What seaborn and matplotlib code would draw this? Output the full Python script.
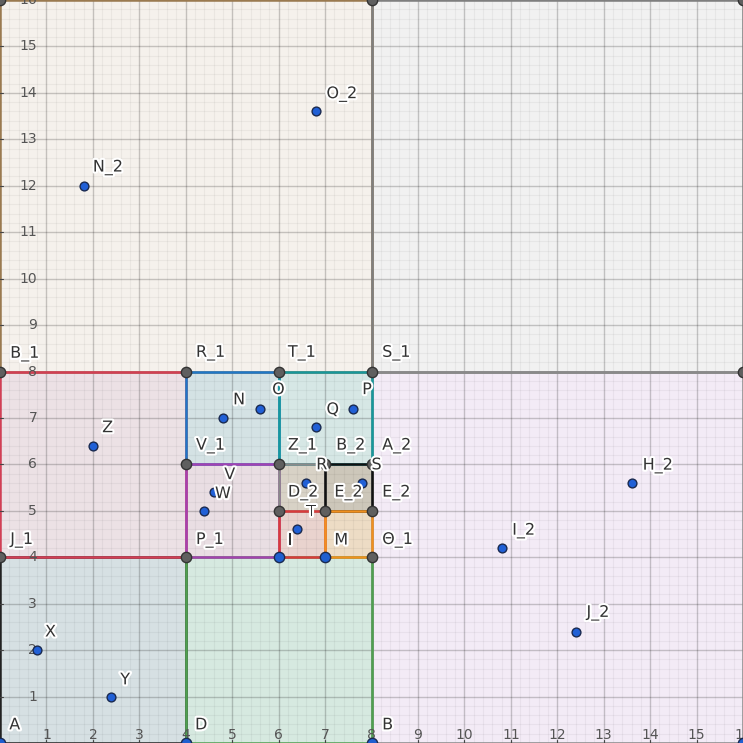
import numpy as np
import pandas as pd
import matplotlib
matplotlib.use("Agg")
import matplotlib.pyplot as plt
import matplotlib.patheffects as pe
from matplotlib.patches import Rectangle
import seaborn as sns

# regions: x0, y0, x1, y1, edge colour, fill colour (drawing order matters for shared edges)
rect_x0 = [0, 8, 8, 0, 0, 4, 4, 6, 4, 6, 7, 6, 7]
rect_y0 = [8, 8, 0, 0, 4, 0, 6, 6, 4, 5, 5, 4, 4]
rect_x1 = [8, 16, 16, 4, 4, 8, 6, 8, 6, 7, 8, 7, 8]
rect_y1 = [16, 16, 8, 4, 8, 4, 8, 8, 6, 6, 6, 5, 5]
rect_edge = ["#9a7a50", "#7f7f7f", "#8a8a8a", "#222222", "#d23f55", "#4fa050",
             "#1f78c8", "#17989c", "#a442b0", "#8a8a8a", "#111111", "#d93b3b", "#f09020"]
rect_fill = ["#f5f1ec", "#f1f1f1", "#f3ebf6", "#d6e0e3", "#ece1e5", "#d6e9e0",
             "#d4e2e4", "#d6e7e5", "#e9dee3", "#d8d2c6", "#cdc7ba", "#e9d3ce", "#eddcc5"]

# free points
pt_x = [1.8, 6.8, 2.0, 0.8, 2.4, 4.8, 5.6, 6.8, 7.6, 4.6, 4.4, 6.6, 7.8, 6.4, 13.6, 10.8, 12.4]
pt_y = [12.0, 13.6, 6.4, 2.0, 1.0, 7.0, 7.2, 6.8, 7.2, 5.4, 5.0, 5.6, 5.6, 4.6, 5.6, 4.2, 2.4]

# vertices (gray) and dependent vertices (blue)
vg_x = [0, 4, 6, 8, 16, 0, 4, 4, 6, 6, 7, 8, 7, 8, 8, 8, 16, 0]
vg_y = [8, 8, 8, 8, 8, 4, 4, 6, 6, 5, 6, 6, 5, 5, 4, 16, 16, 16]
vb_x = [6, 7, 4, 8, 16, 0]
vb_y = [4, 4, 0, 0, 0, 0]

# labels
lab_text = ["N_2", "O_2", "Z", "X", "Y", "A", "D", "B", "B_1", "R_1", "T_1", "S_1",
            "V_1", "Z_1", "B_2", "A_2", "J_1", "P_1", "Θ_1", "N", "O", "Q", "P", "V",
            "W", "R", "S", "D_2", "E_2", "E_2", "T", "I", "M", "H_2", "I_2", "J_2"]
lab_x = [2.0, 7.03, 2.2, 0.97, 2.59, 0.2, 4.2, 8.23, 0.22, 4.22, 6.2, 8.23,
         4.22, 6.2, 7.24, 8.23, 0.22, 4.22, 8.23, 5.02, 5.86, 7.03, 7.8, 4.83,
         4.63, 6.81, 8.0, 6.2, 7.2, 8.23, 6.6, 6.2, 7.2, 13.84, 11.03, 12.63]
lab_y = [12.39, 13.97, 6.79, 2.39, 1.36, 0.39, 0.39, 0.39, 8.38, 8.4, 8.4, 8.4,
         6.4, 6.4, 6.4, 6.4, 4.37, 4.37, 4.37, 7.39, 7.61, 7.18, 7.61, 5.78,
         5.37, 5.99, 5.99, 5.39, 5.39, 5.39, 4.98, 4.37, 4.37, 5.97, 4.57, 2.8]

sns.set_style("white")
fig = plt.figure(figsize=(7.43, 7.43), dpi=100)
ax = fig.add_axes([0, 0, 1, 1])
ax.set_xlim(0, 16)
ax.set_ylim(0, 16)

for x0, y0, x1, y1, fc in zip(rect_x0, rect_y0, rect_x1, rect_y1, rect_fill):
    ax.add_patch(Rectangle((x0, y0), x1 - x0, y1 - y0, facecolor=fc,
                           edgecolor="none", zorder=1))

# grid over the fills, semi transparent
for v in np.arange(0, 16.01, 0.2):
    major = abs(v - round(v)) < 1e-6
    a = 0.2 if major else 0.045
    lw = 1.0 if major else 0.9
    ax.axvline(v, color="black", alpha=a, lw=lw, zorder=2)
    ax.axhline(v, color="black", alpha=a, lw=lw, zorder=2)

for x0, y0, x1, y1, ec in zip(rect_x0, rect_y0, rect_x1, rect_y1, rect_edge):
    ax.add_patch(Rectangle((x0, y0), x1 - x0, y1 - y0, facecolor="none",
                           edgecolor=ec, lw=1.8, zorder=3))

# ticks and tick labels
for i in range(1, 17):
    ax.text(i, 0.17, str(i), ha="center", va="center", fontsize=10, color="#555555", zorder=4)
    ax.plot([i, i], [0, 0.06], color="#444444", lw=0.8, zorder=4)
    ax.text(0.8, i, str(i), ha="right", va="center", fontsize=10, color="#555555", zorder=4)
    ax.plot([0, 0.06], [i, i], color="#444444", lw=0.8, zorder=4)

sns.scatterplot(x=vg_x, y=vg_y, ax=ax, s=55, color="#5f5f5f", edgecolor="#333333",
                linewidth=1.0, zorder=6)
sns.scatterplot(x=vb_x, y=vb_y, ax=ax, s=55, color="#1f5fd0", edgecolor="#1a2a50",
                linewidth=1.0, zorder=6)
sns.scatterplot(x=pt_x, y=pt_y, ax=ax, s=40, color="#2160d6", edgecolor="#1a2a50",
                linewidth=1.0, zorder=7)

for t, x, y in zip(lab_text, lab_x, lab_y):
    ax.text(x, y, t, ha="left", va="center", fontsize=11.5, color="#333333", zorder=8,
            path_effects=[pe.withStroke(linewidth=3, foreground="white")])

ax.set_xticks([])
ax.set_yticks([])
for s in ax.spines.values():
    s.set_visible(False)

fig.savefig("out.png", dpi=100)
